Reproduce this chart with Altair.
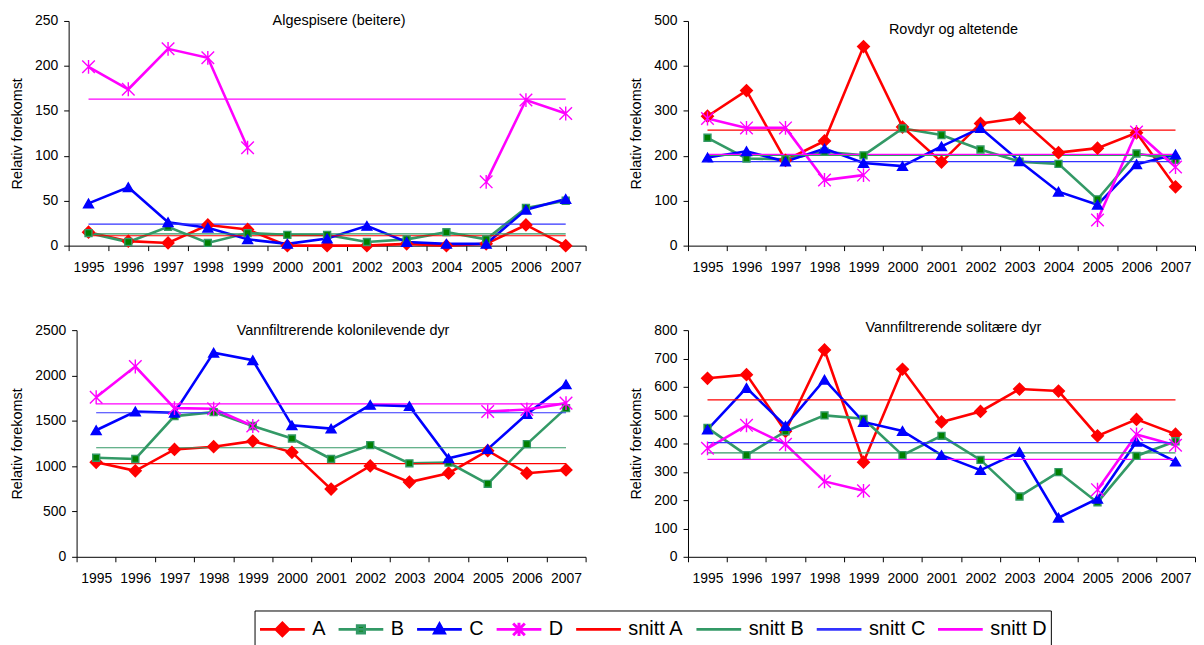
import altair as alt
import pandas as pd

FONT = "Liberation Sans"

years = [str(y) for y in range(1995, 2008)]
series_names = ["A", "B", "C", "D"]
snitt_names = ["snitt A", "snitt B", "snitt C", "snitt D"]
all_names = series_names + snitt_names

line_colors = ["#FF0000", "#339966", "#0000FF", "#FF00FF"]
snitt_colors = ["#FF0000", "#339966", "#3333FF", "#FF00FF"]
marker_fill = ["#FF0000", "#008000", "#0000FF", "#FF00FF"]
marker_stroke = ["#FF0000", "#339966", "#0000FF", "#FF00FF"]
marker_shape = ["diamond", "square", "triangle-up", "M-1,-1L1,1M-1,1L1,-1M0,-1.1L0,1.1"]
marker_size = [140, 49, 100, 160]

# Panel 1
alg_title = "Algespisere (beitere)"
alg_A = [15, 5, 3, 23, 18, 0, 0, 0, 2, 0, 2, 23, 0]
alg_B = [14, 4, 21, 3, 14, 12, 12, 4, 7, 15, 7, 42, 50]
alg_C = [47, 65, 26, 20, 7, 2, 8, 22, 4, 2, 2, 40, 52]
alg_D = [199, 174, 219, 209, 109, None, None, None, None, None, 71, 162, 147]
alg_snitt = [11, 13, 24, 163]

# Panel 2
rov_title = "Rovdyr og altetende"
rov_A = [288, 345, 190, 233, 443, 264, 186, 272, 284, 207, 217, 251, 131]
rov_B = [240, 194, 192, 209, 201, 261, 246, 214, 187, 182, 103, 205, 191]
rov_C = [196, 210, 187, 216, 184, 177, 221, 262, 188, 120, 91, 181, 203]
rov_D = [283, 262, 262, 146, 157, None, None, None, None, None, 57, 253, 175]
rov_snitt = [257, 201, 187, 203]

# Panel 3
kol_title = "Vannfiltrerende kolonilevende dyr"
kol_A = [1042, 948, 1184, 1214, 1276, 1152, 747, 1002, 824, 922, 1170, 922, 958]
kol_B = [1093, 1079, 1552, 1596, 1443, 1305, 1079, 1232, 1031, 1039, 805, 1243, 1640]
kol_C = [1396, 1603, 1589, 2252, 2168, 1450, 1414, 1676, 1662, 1086, 1188, 1574, 1902]
kol_D = [1760, 2099, 1640, 1633, 1443, None, None, None, None, None, 1603, 1625, 1695]
kol_snitt = [1028, 1203, 1589, 1687]

# Panel 4
sol_title = "Vannfiltrerende solitære dyr"
sol_A = [630, 643, 443, 730, 334, 662, 476, 513, 592, 585, 427, 485, 433]
sol_B = [455, 359, 443, 499, 487, 359, 427, 342, 213, 299, 192, 356, 408]
sol_C = [449, 596, 462, 625, 476, 444, 359, 306, 370, 138, 205, 406, 336]
sol_D = [383, 464, 397, 266, 233, None, None, None, None, None, 237, 432, 394]
sol_snitt = [554, 367, 403, 344]

# legend symbols: line + marker
legend_shapes = [
    "M-1,0L1,0M0,-0.28L0.28,0L0,0.28L-0.28,0Z",
    "M-1,0L1,0M-0.16,-0.16L0.16,-0.16L0.16,0.16L-0.16,0.16Z",
    "M-1,0L1,0M0,-0.24L0.22,0.16L-0.22,0.16Z",
    "M-1,0L1,0M-0.26,-0.26L0.26,0.26M-0.26,0.26L0.26,-0.26M0,-0.3L0,0.3",
    "M-1,0L1,0", "M-1,0L1,0", "M-1,0L1,0", "M-1,0L1,0",
]
legend_fills = ["#FF0000", "#008000", "#0000FF", "transparent",
                "transparent", "transparent", "transparent", "transparent"]
legend_widths = [3, 3, 3, 3, 1.2, 1.2, 1.2, 1.2]

color_scale = alt.Scale(domain=all_names, range=line_colors + snitt_colors)
fill_scale = alt.Scale(domain=all_names, range=legend_fills)
shape_scale = alt.Scale(domain=all_names, range=legend_shapes)
sw_scale = alt.Scale(domain=all_names, range=legend_widths)

legend = alt.Legend(
    title=None,
    orient="none",
    legendX=187,
    legendY=593,
    direction="horizontal",
    columns=8,
    labelFont=FONT,
    labelFontSize=20,
    labelColor="black",
    labelOffset=6,
    columnPadding=11,
    symbolSize=2025,
    symbolFillColor="transparent",
    symbolOpacity=1,
    clipHeight=30,
    strokeColor="black",
    fillColor="white",
    padding=4,
)


def panel(title, vals, snitt, ymax, step, w, h, toffset, shift=0, with_legend=False):
    rows = []
    for name, arr in zip(series_names, vals):
        seg = 0
        prev = False
        for yr, v in zip(years, arr):
            if v is None:
                if prev:
                    seg += 1
                prev = False
                continue
            rows.append({"year": yr, "series": name, "value": v, "seg": f"{name}{seg}"})
            prev = True
    df = pd.DataFrame(rows)
    sn = pd.DataFrame(
        [
            {"year": yr, "series": s, "value": v}
            for s, v in zip(snitt_names, snitt)
            for yr in (years[0], years[-1])
        ]
    )
    xscale = alt.Scale(domain=years, paddingInner=0, paddingOuter=0)
    if shift:
        xscale = alt.Scale(domain=years, range=[shift, w], paddingInner=0, paddingOuter=0)
    x = alt.X(
        "year:N",
        sort=years,
        scale=xscale,
        axis=alt.Axis(
            title=None,
            labelAngle=0,
            tickBand="extent",
            tickSize=5,
            tickColor="black",
            domainColor="black",
            labelFont=FONT,
            labelFontSize=14,
            labelColor="black",
            labelPadding=10,
            labelOverlap=False,
            grid=False,
        ),
    )
    y = alt.Y(
        "value:Q",
        scale=alt.Scale(domain=[0, ymax], nice=False),
        axis=alt.Axis(
            title="Relativ forekomst",
            values=list(range(0, ymax + 1, step)),
            format="d",
            offset=-shift,
            tickSize=5,
            tickColor="black",
            domainColor="black",
            labelFont=FONT,
            labelFontSize=14,
            labelColor="black",
            labelPadding=6,
            titleFont=FONT,
            titleFontSize=14.5,
            titleFontWeight="normal",
            titleColor="black",
            titlePadding=10,
            grid=False,
        ),
    )
    color = alt.Color("series:N", scale=color_scale, legend=legend if with_legend else None)
    layers = [
        alt.Chart(df).mark_line(strokeWidth=2.6).encode(x=x, y=y, color=color, detail="seg:N"),
        alt.Chart(sn).mark_line(strokeWidth=1.2).encode(x=x, y=y, color=color, detail="series:N"),
    ]
    for i, name in enumerate(series_names):
        layers.append(
            alt.Chart(df)
            .transform_filter(alt.datum.series == name)
            .mark_point(
                filled=True,
                shape=marker_shape[i],
                size=marker_size[i],
                fill=marker_fill[i],
                stroke=marker_stroke[i],
                strokeWidth=1.4,
                opacity=1,
            )
            .encode(x=x, y=y)
        )
    if with_legend:
        layers.append(
            alt.Chart(sn)
            .mark_point(filled=False, size=0, opacity=0)
            .encode(
                x=x,
                y=y,
                fill=alt.Fill("series:N", scale=fill_scale, legend=legend),
                shape=alt.Shape("series:N", scale=shape_scale, legend=legend),
                strokeWidth=alt.StrokeWidth("series:N", scale=sw_scale, legend=legend),
            )
        )
    return alt.layer(*layers).properties(
        width=w,
        height=h,
        title=alt.TitleParams(
            text=title,
            font=FONT,
            fontSize=14.5,
            fontWeight="normal",
            color="black",
            anchor="middle",
            frame="group",
            dx=12 + shift / 2,
            offset=toffset,
            baseline="alphabetic",
        ),
    )


p1 = panel(alg_title, [alg_A, alg_B, alg_C, alg_D], alg_snitt, 250, 50, 520, 226, -26, with_legend=True)
p2 = panel(rov_title, [rov_A, rov_B, rov_C, rov_D], rov_snitt, 500, 100, 510, 226, -35)
p3 = panel(kol_title, [kol_A, kol_B, kol_C, kol_D], kol_snitt, 2500, 500, 520, 228, -26.3, shift=8)
p4 = panel(sol_title, [sol_A, sol_B, sol_C, sol_D], sol_snitt, 800, 100, 510, 228, -23.3)

chart = (
    alt.vconcat(
        alt.hconcat(p1, p2, spacing=42),
        alt.hconcat(p3, p4, spacing=42),
        spacing=45,
    )
    .properties(padding={"left": 1, "top": 3, "right": 0, "bottom": 50}, background="white")
    .configure_view(stroke=None)
)

chart.save("out.html", embed_options={"renderer": "svg", "actions": False})
